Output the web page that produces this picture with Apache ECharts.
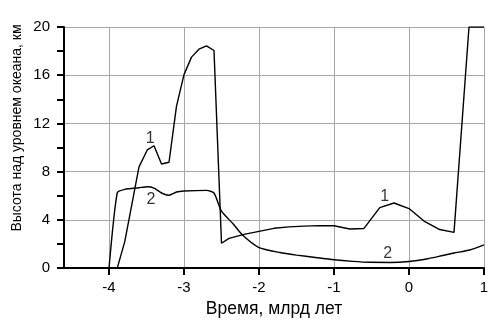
<!DOCTYPE html>
<html><head><meta charset="utf-8">
<script src="https://cdn.jsdelivr.net/npm/echarts@6/dist/echarts.min.js"></script>
<style>html,body{margin:0;padding:0;background:#fff}#c{width:502px;height:323px}</style>
</head><body><div id="c"></div>
<script>
const curve1 = [[-3.89,0],[-3.79,2.2],[-3.6,8.4],[-3.49,9.8],[-3.4,10.15],[-3.3,8.64],[-3.2,8.78],[-3.1,13.44],[-3.0,16.05],[-2.9,17.5],[-2.8,18.16],[-2.7,18.44],[-2.6,18.05],[-2.5,2.06],[-2.4,2.47],[-2.2,2.8],[-2.0,3.05],[-1.8,3.3],[-1.6,3.42],[-1.4,3.48],[-1.2,3.52],[-1.0,3.51],[-0.79,3.24],[-0.6,3.29],[-0.39,5.02],[-0.2,5.4],[0.0,4.94],[0.2,3.9],[0.41,3.2],[0.6,2.96],[0.8,20],[1.0,20]];
const curve2 = [[-4.0,0],[-3.89,6.25],[-3.79,6.53],[-3.6,6.67],[-3.49,6.75],[-3.4,6.64],[-3.3,6.23],[-3.2,6.04],[-3.1,6.31],[-3.0,6.39],[-2.7,6.45],[-2.6,6.23],[-2.5,4.72],[-2.35,3.7],[-2.22,2.74],[-2.0,1.7],[-1.72,1.29],[-1.5,1.08],[-1.25,0.88],[-1.0,0.69],[-0.75,0.56],[-0.52,0.48],[-0.25,0.47],[0.0,0.55],[0.25,0.78],[0.45,1.05],[0.6,1.25],[0.81,1.5],[1.0,1.92]];
const curveLabels = [[-3.45,10.78,'1'],[-3.44,5.68,'2'],[-0.324,5.97,'1'],[-0.284,1.23,'2']];
const xTicks = [-4,-3,-2,-1,0,1];
const yTicks = [0,4,8,12,16,20];
const xName = 'Время, млрд лет';
const yName = 'Высота над уровнем океана, км';

const chart = echarts.init(document.getElementById('c'), null, {renderer:'canvas'});
const font = 'Liberation Sans, Arial, sans-serif';
chart.setOption({
  animation:false,
  grid:{left:64,right:18,top:27,bottom:53,containLabel:false},
  xAxis:{type:'value',min:-4.6,max:1,interval:1,
    name:xName,nameLocation:'middle',nameGap:31,
    nameTextStyle:{fontFamily:font,fontSize:17.5,color:'#000'},
    axisLine:{show:true,onZero:false,lineStyle:{color:'#000',width:2}},
    axisTick:{show:true,length:7,lineStyle:{color:'#000',width:2},
      customValues:xTicks},
    axisLabel:{fontFamily:font,fontSize:15,color:'#000',margin:12,
      customValues:xTicks,
      formatter:v=>xTicks.indexOf(Math.round(v*10)/10)>=0?String(v):''},
    splitLine:{show:true,lineStyle:{color:'#a8a8a8',width:1}}
  },
  yAxis:{type:'value',min:0,max:20,interval:4,
    axisLine:{show:true,onZero:false,lineStyle:{color:'#000',width:2}},
    axisTick:{show:true,length:7,lineStyle:{color:'#000',width:2}},
    minorTick:{show:true,splitNumber:2,length:7,lineStyle:{color:'#000',width:2}},
    axisLabel:{fontFamily:font,fontSize:15,color:'#000',margin:14,
      formatter:v=>yTicks.indexOf(v)>=0?String(v):''},
    splitLine:{show:true,lineStyle:{color:'#a8a8a8',width:1}}
  },
  graphic:[{type:'text',x:17,y:128,rotation:Math.PI/2,
    style:{text:yName,fontFamily:font,fontSize:14,fill:'#000',align:'center',verticalAlign:'middle'}}],
  series:[
    {type:'line',data:curve1,showSymbol:false,symbol:'none',lineStyle:{color:'#000',width:1.4},z:3},
    {type:'line',data:curve2,showSymbol:false,symbol:'none',smooth:0.2,lineStyle:{color:'#000',width:1.4},z:3},
    {type:'scatter',symbolSize:0,data:curveLabels.map(d=>[d[0],d[1],d[2]]),
      label:{show:true,position:'inside',formatter:p=>p.data[2],fontFamily:font,fontSize:16,color:'#000'},z:4}
  ]
});
</script></body></html>
